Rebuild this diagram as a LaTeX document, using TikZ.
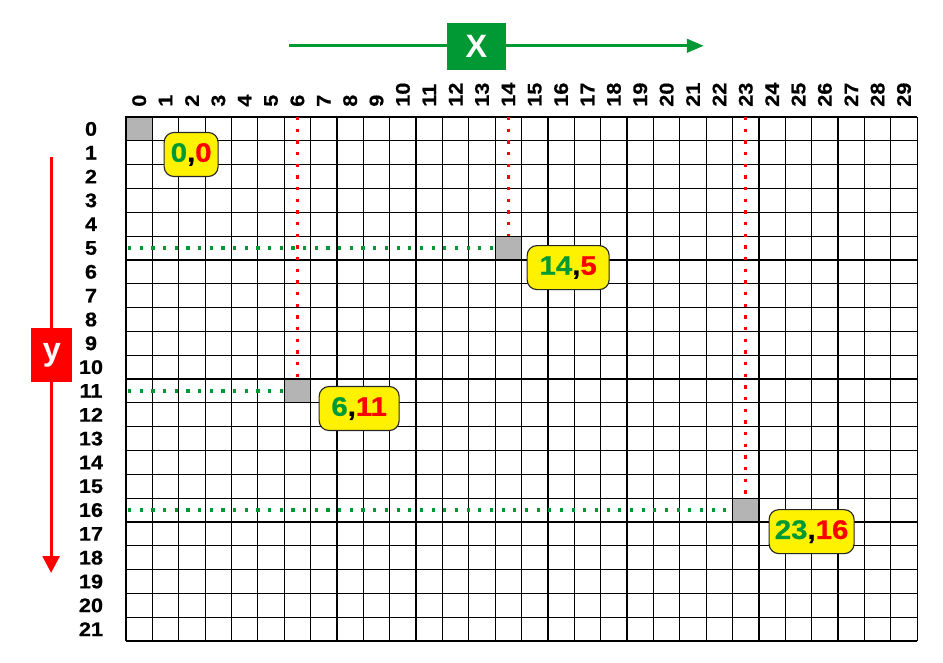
\documentclass[tikz,border=0pt]{standalone}
\usepackage{fontspec}
\setmainfont{Liberation Sans}
\newfontfamily\lblfont[FakeStretch=1.1,FakeBold=0.6]{Liberation Sans}
\newfontfamily\tagfont[FakeStretch=1.1,FakeBold=0.8]{Liberation Sans}
\usetikzlibrary{arrows.meta,positioning}
\definecolor{xgreen}{RGB}{0,153,51}
\definecolor{yred}{RGB}{255,0,0}
\definecolor{cellgray}{RGB}{180,180,180}

\begin{document}
\begin{tikzpicture}[x=0.65925cm, y=-0.5955cm,
    gridline/.style={black, line width=0.85pt},
    cell/.style={draw=black, line width=0.85pt, fill=cellgray, minimum width=0.65925cm, minimum height=0.5955cm, inner sep=0pt},
    tag/.style={draw=black!85, line width=0.8pt, fill=yellow, rounded corners=7pt, minimum height=1.1cm, inner xsep=4pt, anchor=north west, font=\tagfont\fontsize{19}{19}\selectfont\bfseries},
    num/.style={inner sep=0pt, font=\lblfont\fontsize{14}{14}\selectfont\bfseries},
    reddots/.style={yred, line width=2.3pt, dash pattern=on 2.3pt off 6pt},
    greendots/.style={xgreen, line width=2.3pt, dash pattern=on 2.3pt off 6pt},
    axisbox/.style={inner sep=0pt, text=white, font=\fontsize{23}{23}\selectfont\bfseries}]
    \useasboundingbox (-4.778,-4.912) rectangle (30.98,22.88);

    % Raster
    \foreach \i in {0,...,30} \draw[gridline] (\i,0) -- (\i,22);
    \foreach \j in {0,...,22} \draw[gridline] (0,\j) -- (30,\j);
    \coordinate (gridtop) at (0,0);
    \coordinate (gridleft) at (0.08,0);

    % Spalten- und Zeilennummern
    \foreach \i in {0,...,29}
        \node[num, rotate=90, anchor=west] (col\i) at (\i+0.5,-0.42) {\i};
    \foreach \j in {0,...,21}
        \node[num] (row\j) at (-1.327,\j+0.5) {\j};

    % Achsen
    \coordinate (xstart) at (6.19,-2.99);
    \coordinate (xend) at (21.91,-2.99);
    \draw[xgreen, line width=2.1pt, -{Triangle[length=12pt,width=9.5pt]}] (xstart) -- (xend);
    \node[axisbox, fill=xgreen, minimum width=1.475cm, minimum height=1.175cm] (xbox) at (13.29,-2.96) {X};

    \coordinate (ystart) at (-2.84,1.68);
    \coordinate (yend) at (-2.84,19.14);
    \draw[yred, line width=2.1pt, -{Triangle[length=12pt,width=12pt]}] (ystart) -- (yend);
    \node[axisbox, fill=yred, minimum width=1.025cm, minimum height=1.35cm] (ybox) at (-2.81,9.99) {y};

    % Markierte Pixel
    \node[cell] (c00) at (0.5,0.5) {};
    \node[cell] (c145) at (14.5,5.5) {};
    \node[cell] (c611) at (6.5,11.5) {};
    \node[cell] (c2316) at (23.5,16.5) {};

    \draw[reddots] (c145 |- gridtop) -- (c145.north);
    \draw[reddots] (c611 |- gridtop) -- (c611.north);
    \draw[reddots] (c2316 |- gridtop) -- (c2316.north);
    \draw[greendots] (gridleft |- c145) -- (c145.west);
    \draw[greendots] (gridleft |- c611) -- (c611.west);
    \draw[greendots] (gridleft |- c2316) -- (c2316.west);

    % Koordinaten
    \node[tag, minimum width=1.35cm] (t00) at ([xshift=0.265cm, yshift=-0.075cm]c00.east)
        {{\color{xgreen}0},{\color{yred}0}};
    \node[tag, minimum width=2.05cm] (t145) at ([xshift=0.11cm, yshift=0.075cm]c145.east)
        {{\color{xgreen}14},{\color{yred}5}};
    \node[tag, minimum width=2.0cm] (t611) at ([xshift=0.185cm, yshift=0.125cm]c611.east)
        {{\color{xgreen}6},{\color{yred}11}};
    \node[tag, minimum width=2.125cm] (t2316) at ([xshift=0.225cm, yshift=0.025cm]c2316.east)
        {{\color{xgreen}23},{\color{yred}16}};
\end{tikzpicture}
\end{document}
